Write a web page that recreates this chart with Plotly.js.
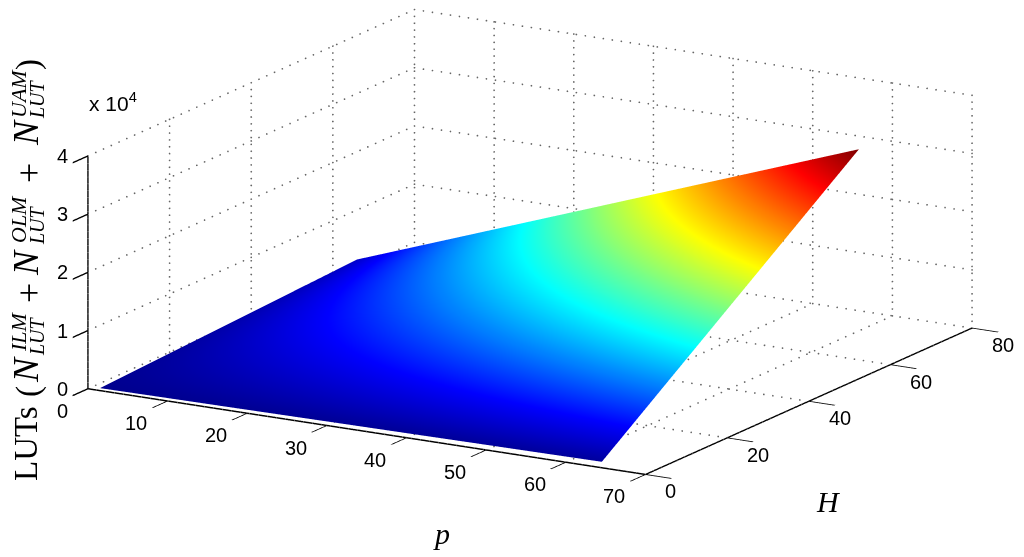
<!DOCTYPE html>
<html>
<head>
<meta charset="utf-8">
<script src="https://cdn.plot.ly/plotly-3.0.1.min.js"></script>
<style>html,body{margin:0;padding:0;background:#fff}#aux{width:1024px;height:557px}</style>
</head>
<body>
<div id="aux"></div>
<script>
const pValues = [1, 8, 16, 24, 32, 40, 48, 56, 64];
const hValues = [1, 8, 16, 24, 32, 40, 48, 56, 64];
const luts = [
	[0, 70, 140, 220, 300, 370, 450, 520, 600],
	[260, 710, 1230, 1750, 2280, 2800, 3320, 3840, 4360],
	[550, 1450, 2480, 3510, 4540, 5570, 6610, 7640, 8670],
	[840, 2190, 3730, 5270, 6810, 8350, 9890, 11430, 12970],
	[1130, 2920, 4980, 7030, 9080, 11130, 13180, 15230, 17280],
	[1420, 3660, 6220, 8780, 11340, 13900, 16460, 19020, 21580],
	[1720, 4400, 7470, 10540, 13610, 16680, 19750, 22820, 25890],
	[2010, 5140, 8720, 12300, 15880, 19460, 23040, 26620, 30200],
	[2300, 5870, 9960, 14050, 18140, 22230, 26320, 30410, 34500]
];
const pTicks = [0, 10, 20, 30, 40, 50, 60, 70];
const hTicks = [0, 20, 40, 60, 80];
const zTicks = [0, 10000, 20000, 30000, 40000];
const zTickText = ['0', '1', '2', '3', '4'];

const jet = [
	[0, 'rgb(0,0,143)'],
	[0.125, 'rgb(0,0,255)'],
	[0.375, 'rgb(0,255,255)'],
	[0.625, 'rgb(255,255,0)'],
	[0.875, 'rgb(255,0,0)'],
	[1, 'rgb(128,0,0)']
];

// dotted grid as small markers, line dash on a scene comes out too dense
const dots = {x: [], y: [], z: []};
function dotLine(from, to, count) {
	for (let i = 0; i <= count; i++) {
		dots.x.push(from[0] + (to[0] - from[0]) * i / count);
		dots.y.push(from[1] + (to[1] - from[1]) * i / count);
		dots.z.push(from[2] + (to[2] - from[2]) * i / count);
	}
}
pTicks.forEach(p => {
	dotLine([p, 0, 0], [p, 80, 0], 42);
	dotLine([p, 80, 0], [p, 80, 40000], 34);
});
hTicks.forEach(h => {
	dotLine([0, h, 0], [70, h, 0], 62);
	dotLine([0, h, 0], [0, h, 40000], 34);
});
zTicks.forEach(z => {
	dotLine([0, 0, z], [0, 80, z], 42);
	dotLine([0, 80, z], [70, 80, z], 62);
});

const data = [{
	type: 'surface', x: pValues, y: hValues, z: luts,
	colorscale: jet, cmin: 0, cmax: 34500, showscale: false,
	lighting: {ambient: 1, diffuse: 0, specular: 0, roughness: 1, fresnel: 0},
	contours: {x: {highlight: false}, y: {highlight: false}, z: {highlight: false}}
}, {
	type: 'scatter3d', mode: 'markers', x: dots.x, y: dots.y, z: dots.z,
	marker: {color: '#666', size: 1, line: {width: 0}},
	hoverinfo: 'skip', showlegend: false
}];

const sans = 'Liberation Sans, Arial, sans-serif';
const serif = 'Liberation Serif, serif';
function label(text, px, py, size, angle, family) {
	return {
		text: text, xref: 'paper', yref: 'paper',
		x: px / 1024, y: 1 - py / 557, xanchor: 'center', yanchor: 'middle',
		showarrow: false, textangle: angle || 0,
		font: {family: family || serif, size: size, color: '#000'}
	};
}
// gl3d tick labels get tilted with the axis, these stay flat
function tickLabel(x, y, z, text, anchor, dx, dy) {
	return {
		x: x, y: y, z: z, text: text, showarrow: false,
		xanchor: anchor, yanchor: 'middle', xshift: dx, yshift: dy,
		font: {family: sans, size: 20, color: '#000'}
	};
}
const sceneLabels = [];
pTicks.forEach(p => sceneLabels.push(tickLabel(p, 0, 0, String(p), 'right', -18, -22)));
hTicks.forEach(h => sceneLabels.push(tickLabel(70, h, 0, String(h), 'left', 18, -17)));
zTicks.forEach((z, i) => sceneLabels.push(tickLabel(0, 0, z, zTickText[i], 'right', -18, 0)));

const axisBase = {
	showgrid: false, showbackground: false, showspikes: false, zeroline: false,
	showline: true, linecolor: '#000', linewidth: 3,
	ticks: 'outside', ticklen: 30, tickcolor: '#000', tickwidth: 3,
	showticklabels: false, title: {text: ''}
};
const layout = {
	width: 1024, height: 557,
	margin: {l: 0, r: 0, t: 0, b: 0},
	paper_bgcolor: '#fff',
	showlegend: false,
	scene: {
		domain: {x: [0.035, 1], y: [0.131, 1]},
		aspectmode: 'manual',
		aspectratio: {x: 2.67, y: 2.67, z: 0.997},
		camera: {
			eye: {x: 1.95, y: -3.33, z: 1.05},
			center: {x: 0, y: 0, z: 0},
			up: {x: 0, y: 0, z: 1},
			projection: {type: 'orthographic'}
		},
		xaxis: Object.assign({}, axisBase, {range: [0, 70], tickvals: pTicks}),
		yaxis: Object.assign({}, axisBase, {range: [0, 80], tickvals: hTicks}),
		zaxis: Object.assign({}, axisBase, {range: [0, 40000], tickvals: zTicks}),
		annotations: sceneLabels
	},
	annotations: [
		label('<i>p</i>', 441, 533, 30),
		label('<i>H</i>', 828, 501, 30),
		label('x 10<sup>4</sup>', 113, 102, 21, 0, sans),
		label('LUTs', 26, 444, 33, -90),
		label('(', 28, 392, 33, -90),
		label('<i>N</i>', 26, 370, 36, -90),
		label('<i>ILM</i>', 19, 332, 22, -90),
		label('<i>LUT</i>', 37, 336, 20, -90),
		label('+', 29, 293, 36, -90),
		label('<i>N</i>', 26, 263, 36, -90),
		label('<i>OLM</i>', 19, 219, 22, -90),
		label('<i>LUT</i>', 37, 225, 20, -90),
		label('+', 29, 173, 36, -90),
		label('<i>N</i>', 26, 133, 36, -90),
		label('<i>UAM</i>', 19, 94, 22, -90),
		label('<i>LUT</i>', 37, 99, 20, -90),
		label(')', 28, 65, 33, -90)
	]
};
Plotly.newPlot('aux', data, layout, {displayModeBar: false});
</script>
</body>
</html>
